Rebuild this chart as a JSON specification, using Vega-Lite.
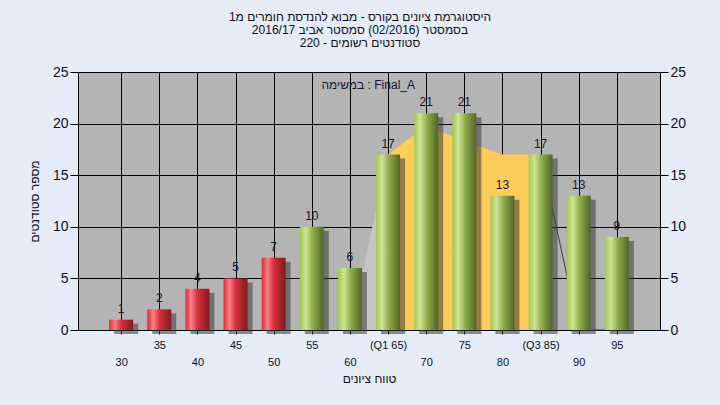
{
  "$schema": "https://vega.github.io/schema/vega-lite/v6.json",
  "width": 582,
  "height": 258,
  "autosize": {"type": "none"},
  "padding": {"left": 78, "top": 72, "right": 60, "bottom": 75},
  "background": "#e3ecf7",
  "config": {
    "view": {"fill": "#b4b4b4", "stroke": "#000000", "strokeWidth": 1},
    "font": "Liberation Sans",
    "axis": {"labelFont": "Liberation Sans", "titleFont": "Liberation Sans", "titleFontWeight": "normal"}
  },
  "title": {
    "text": ["היסטוגרמת ציונים בקורס - מבוא להנדסת חומרים מ1", "בסמסטר  (02/2016)  סמסטר אביב 2016/17", "סטודנטים רשומים - 220"],
    "fontSize": 12,
    "fontWeight": "normal",
    "color": "#101020",
    "lineHeight": 13,
    "anchor": "middle",
    "dx": -9,
    "offset": 15
  },
  "datasets": {
    "bars": [
      {"score": 30, "n": 1}, {"score": 35, "n": 2}, {"score": 40, "n": 4}, {"score": 45, "n": 5},
      {"score": 50, "n": 7}, {"score": 55, "n": 10}, {"score": 60, "n": 6}, {"score": 65, "n": 17},
      {"score": 70, "n": 21}, {"score": 75, "n": 21}, {"score": 80, "n": 13}, {"score": 85, "n": 17},
      {"score": 90, "n": 13}, {"score": 95, "n": 9}
    ],
    "curveL": [{"score": 60, "v": 0}, {"score": 65, "v": 17}],
    "curveY": [{"score": 65, "v": 17}, {"score": 70, "v": 19.8}, {"score": 75, "v": 18.3}, {"score": 80, "v": 17}, {"score": 85, "v": 17}],
    "curveR": [{"score": 85, "v": 17}, {"score": 90, "v": 0}, {"score": 95, "v": 0}]
  },
  "data": {"name": "bars"},
  "encoding": {
    "x": {
      "field": "score",
      "type": "quantitative",
      "scale": {"domain": [25, 100], "nice": false, "zero": false},
      "axis": {
        "values": [30, 35, 40, 45, 50, 55, 60, 65, 70, 75, 80, 85, 90, 95],
        "title": "טווח ציונים",
        "titleFontSize": 12,
        "titleColor": "#101020",
        "titlePadding": 6,
        "labelFontSize": 11,
        "labelColor": "#101020",
        "labelPadding": 5,
        "labelLineHeight": 17,
        "labelOverlap": false,
        "labelBound": false,
        "labelFlush": false,
        "labelExpr": "datum.value % 10 == 0 ? ['', datum.label] : (datum.value == 65 ? '(Q1 65)' : (datum.value == 85 ? '(Q3 85)' : datum.label))",
        "tickSize": 4,
        "tickColor": "#000000",
        "domain": false,
        "grid": true,
        "gridColor": "#000000",
        "gridOpacity": 1,
        "gridWidth": 1
      }
    }
  },
  "layer": [
    {
      "data": {"name": "curveL"},
      "mark": {"type": "area", "color": "#c4c4c4"},
      "encoding": {
        "y": {
          "field": "v", "type": "quantitative",
          "scale": {"domain": [0, 25], "nice": false},
          "axis": {
            "orient": "left",
            "values": [0, 5, 10, 15, 20, 25],
            "title": "מספר סטודנטים",
            "titleFontSize": 12,
            "titleColor": "#101020",
            "titlePadding": 11,
            "labelFontSize": 14,
            "labelColor": "#101020",
            "labelPadding": 2,
            "tickSize": 8,
            "tickColor": "#000000",
            "domain": false,
            "grid": true,
            "gridColor": "#000000",
            "gridOpacity": 1,
            "gridWidth": 1
          }
        }
      }
    },
    {
      "data": {"name": "curveY"},
      "mark": {"type": "area", "color": "#ffcc5a"},
      "encoding": {"y": {"field": "v", "type": "quantitative", "axis": null}}
    },
    {
      "data": {"name": "curveR"},
      "mark": {"type": "line", "color": "#3c3c3c", "strokeWidth": 1},
      "encoding": {"y": {"field": "v", "type": "quantitative", "axis": null}}
    },
    {
      "mark": {"type": "bar", "width": 24, "xOffset": 5, "yOffset": 4, "color": "#3a3a3a", "opacity": 0.55},
      "encoding": {"y": {"field": "n", "type": "quantitative", "axis": null}}
    },
    {
      "transform": [{"filter": "datum.score < 55"}],
      "mark": {
        "type": "bar", "width": 24,
        "color": {"gradient": "linear", "x1": 0, "y1": 0, "x2": 1, "y2": 0,
          "stops": [{"offset": 0, "color": "#e02a33"}, {"offset": 0.25, "color": "#f5818b"}, {"offset": 0.5, "color": "#d9303a"}, {"offset": 1, "color": "#7e1a20"}]}
      },
      "encoding": {"y": {"field": "n", "type": "quantitative", "axis": null}}
    },
    {
      "transform": [{"filter": "datum.score >= 55"}],
      "mark": {
        "type": "bar", "width": 24,
        "color": {"gradient": "linear", "x1": 0, "y1": 0, "x2": 1, "y2": 0,
          "stops": [{"offset": 0, "color": "#a2c84e"}, {"offset": 0.25, "color": "#cde496"}, {"offset": 0.55, "color": "#8eab48"}, {"offset": 1, "color": "#4f6626"}]}
      },
      "encoding": {"y": {"field": "n", "type": "quantitative", "axis": null}}
    },
    {
      "mark": {"type": "text", "fontSize": 12, "fontWeight": "normal", "color": "#151530", "baseline": "alphabetic", "dy": -7},
      "encoding": {
        "y": {
          "field": "n", "type": "quantitative",
          "axis": {
            "orient": "right",
            "values": [0, 5, 10, 15, 20, 25],
            "title": null,
            "labelFontSize": 14,
            "labelColor": "#101020",
            "labelPadding": 2,
            "tickSize": 8,
            "tickColor": "#000000",
            "domain": false,
            "grid": false
          }
        },
        "text": {"field": "n", "type": "quantitative"}
      }
    },
    {
      "transform": [{"filter": "datum.score == 60"}],
      "mark": {"type": "text", "fontSize": 12, "fontWeight": "normal", "color": "#151530", "baseline": "middle", "align": "center", "text": "במשימה : Final_A"},
      "encoding": {
        "x": {"datum": 62.4, "type": "quantitative"},
        "y": {"datum": 23.7, "type": "quantitative", "axis": null}
      }
    }
  ],
  "resolve": {"scale": {"y": "shared"}, "axis": {"y": "independent"}}
}
